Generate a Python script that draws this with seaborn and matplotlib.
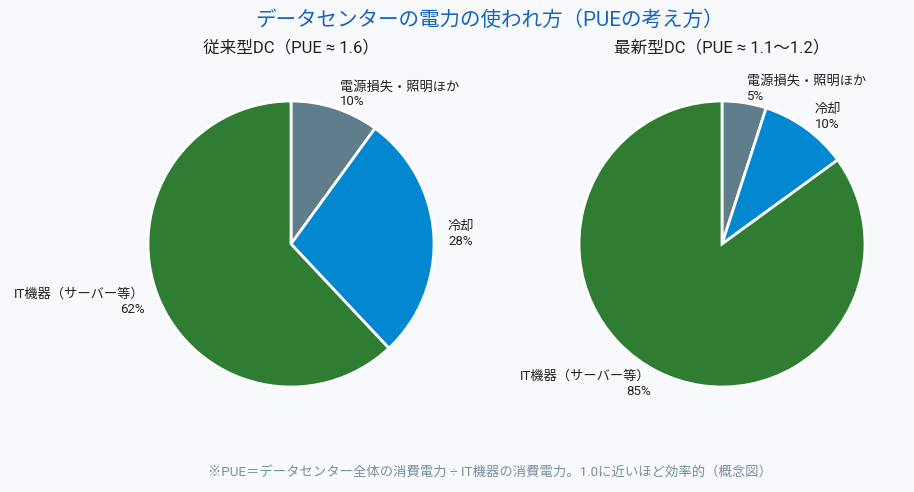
import matplotlib
matplotlib.use("Agg")
import matplotlib.pyplot as plt
import seaborn as sns

# data
labels = ['電源損失・照明ほか', '冷却', 'IT機器（サーバー等）']
share_old = [10, 28, 62]
share_new = [5, 10, 85]
titles = ['従来型DC（PUE ≈ 1.6）', '最新型DC（PUE ≈ 1.1〜1.2）']
colors = ['#607D8B', '#0288D1', '#2E7D32']

bg = '#F7F9FC'
sns.set_theme(style='white')
plt.rcParams['font.family'] = ['Roboto', 'Noto Sans CJK JP', 'DejaVu Sans']

fig = plt.figure(figsize=(9.14, 4.92), dpi=100, facecolor=bg)

W, H = 914, 492
r = 143
centers = [(291, 244), (722, 244)]

for (cx, cy), vals, ttl in zip(centers, [share_old, share_new], titles):
    half = r * 1.25
    ax = fig.add_axes([(cx - half) / W, (H - cy - half) / H, 2 * half / W, 2 * half / H])
    ax.set_facecolor(bg)
    txt = [f'{l}\n{v}%' for l, v in zip(labels, vals)]
    wedges, texts = ax.pie(vals, labels=txt, colors=colors, startangle=90,
                           counterclock=False, labeldistance=1.1,
                           wedgeprops=dict(edgecolor='white', linewidth=2),
                           textprops=dict(fontsize=9.5, color='#222222'))
    fig.text(cx / W, 1 - 47 / H, ttl, ha='center', va='center',
             fontsize=12, color='#222222')

fig.text(0.536, 1 - 20 / H, 'データセンターの電力の使われ方（PUEの考え方）',
         ha='center', va='center', fontsize=14.8, color='#1565C0')
fig.text(0.536, 1 - 472 / H,
         '※PUE＝データセンター全体の消費電力 ÷ IT機器の消費電力。1.0に近いほど効率的（概念図）',
         ha='center', va='center', fontsize=9.6, color='#78909C')

fig.savefig('out.png', dpi=100, facecolor=bg)
